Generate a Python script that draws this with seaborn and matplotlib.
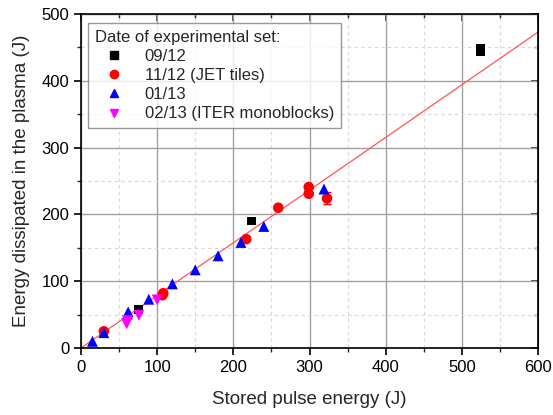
import numpy as np
import pandas as pd
import matplotlib
matplotlib.use("Agg")
import matplotlib.pyplot as plt
import seaborn as sns
from matplotlib.lines import Line2D
from matplotlib.ticker import MultipleLocator

# ---- data ----
set_labels = ["09/12", "11/12 (JET tiles)", "01/13", "02/13 (ITER monoblocks)"]

x_0912 = [75, 224, 524, 524]
y_0912 = [58, 190, 443, 448]

x_1112 = [30, 107, 108, 217, 259, 299, 299, 323]
y_1112 = [25, 79, 82, 163, 210, 231, 241, 224]
err_1112 = [0, 0, 0, 0, 0, 0, 0, 9]

x_0113 = [15, 30, 61, 62, 89, 120, 150, 180, 210, 240, 319]
y_0113 = [10, 23, 51, 54, 73, 96, 117, 138, 158, 182, 238]
err_0113 = [5, 5, 5, 5, 5, 5, 5, 5, 5, 5, 5]

x_0213 = [60, 61, 76, 100]
y_0213 = [36, 41, 49, 72]

fit_slope = 0.788
fit_x = [0, 600]

x_ticks = [0, 100, 200, 300, 400, 500, 600]
y_ticks = [0, 100, 200, 300, 400, 500]

colors = ["#000000", "#ff0000", "#0000ff", "#ff00ff"]
markers = ["s", "o", "^", "v"]

frames = []
for lab, xs, ys in zip(set_labels, [x_0912, x_1112, x_0113, x_0213],
                       [y_0912, y_1112, y_0113, y_0213]):
    frames.append(pd.DataFrame({"x": xs, "y": ys, "set": lab}))
df = pd.concat(frames, ignore_index=True)

sns.set_style("white")
plt.rcParams["font.family"] = ["Liberation Sans", "DejaVu Sans"]

fig = plt.figure(figsize=(5.53, 4.15), dpi=100)
ax = fig.add_axes([81 / 553, 1 - 348 / 415, 457 / 553, 334 / 415])

# fit line
fit_df = pd.DataFrame({"x": fit_x, "y": [fit_slope * v for v in fit_x]})
sns.lineplot(data=fit_df, x="x", y="y", ax=ax, color="#ff5555", lw=0.9,
             zorder=2, legend=False)

# error bars
ax.errorbar(x_0113, y_0113, yerr=err_0113, fmt="none", ecolor="#0000ff",
            elinewidth=0.8, capsize=0, zorder=3)
ax.errorbar(x_1112, y_1112, yerr=err_1112, fmt="none", ecolor="#ff0000",
            elinewidth=0.8, capsize=3, zorder=3)

sizes = {"09/12": 40, "11/12 (JET tiles)": 58,
         "01/13": 62, "02/13 (ITER monoblocks)": 62}
for lab, c, m in zip(set_labels, colors, markers):
    sub = df[df["set"] == lab]
    sns.scatterplot(data=sub, x="x", y="y", ax=ax, color=c, marker=m,
                    s=sizes[lab], edgecolor="none", zorder=4, legend=False)

ax.set_xlim(0, 600)
ax.set_ylim(0, 500)
ax.set_xticks(x_ticks)
ax.set_yticks(y_ticks)
ax.xaxis.set_minor_locator(MultipleLocator(50))
ax.yaxis.set_minor_locator(MultipleLocator(50))
ax.grid(which="major", color="#a0a0a0", lw=1.0, ls="-")
ax.grid(which="minor", color="#d8d8d8", lw=0.8, ls=(0, (3, 3)))
ax.set_axisbelow(True)

for sp in ax.spines.values():
    sp.set_color("black")
    sp.set_linewidth(1.2)

ax.tick_params(which="major", direction="out", length=5, width=1.2,
               labelsize=12, colors="black", bottom=True, left=True)
ax.tick_params(which="minor", direction="out", length=3, width=1.0,
               bottom=True, left=True)

# mirrored inward ticks on top/right
secx = ax.secondary_xaxis("top")
secx.set_xticks(x_ticks)
secx.xaxis.set_minor_locator(MultipleLocator(50))
secx.tick_params(which="major", direction="in", length=5, width=1.2, labeltop=False)
secx.tick_params(which="minor", direction="in", length=3, width=1.0)
secx.set_xticklabels([])
secy = ax.secondary_yaxis("right")
secy.set_yticks(y_ticks)
secy.yaxis.set_minor_locator(MultipleLocator(50))
secy.tick_params(which="major", direction="in", length=5, width=1.2, labelright=False)
secy.tick_params(which="minor", direction="in", length=3, width=1.0)
secy.set_yticklabels([])

ax.set_xlabel("Stored pulse energy (J)", fontsize=13.5, labelpad=12)
ax.set_ylabel("Energy dissipated in the plasma (J)", fontsize=13.5, labelpad=8)

handles = [Line2D([], [], ls="none", marker=m, color=c, markersize=6)
           for c, m in zip(colors, markers)]
leg = ax.legend(handles, set_labels, title="Date of experimental set:",
                loc="upper left", bbox_to_anchor=(0.015, 0.973),
                borderaxespad=0, fontsize=12, title_fontsize=12,
                alignment="left", frameon=True, fancybox=False,
                handlelength=2.3, handletextpad=0.7, labelspacing=0.25,
                borderpad=0.4)
leg.get_frame().set_edgecolor("#808080")
leg.get_frame().set_linewidth(1.0)

fig.savefig("out.png", dpi=100)
